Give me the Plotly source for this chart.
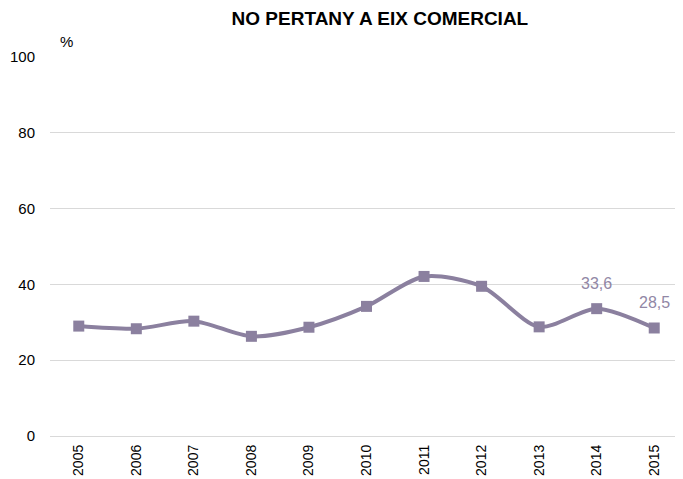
import plotly.graph_objects as go

# Data
years = ["2005", "2006", "2007", "2008", "2009", "2010",
         "2011", "2012", "2013", "2014", "2015"]
values = [29.0, 28.3, 30.3, 26.3, 28.7, 34.2, 42.1, 39.5, 28.8, 33.6, 28.5]
labelled = ["2014", "2015"]

color = "#8b809f"

fig = go.Figure()
fig.add_trace(go.Scatter(
    x=years, y=values, mode="lines+markers",
    line=dict(color=color, width=4, shape="spline", smoothing=0.8),
    marker=dict(symbol="square", size=11, color=color),
    cliponaxis=False, showlegend=False,
))

# value labels on the last two points (category index, since years look numeric)
notes = [dict(x=i, y=v, text=f"{v:.1f}".replace(".", ","), showarrow=False,
              xanchor="center", yanchor="middle", yshift=25,
              font=dict(color="#9187a5", size=16))
         for i, (y, v) in enumerate(zip(years, values)) if y in labelled]
notes.append(dict(text="%", xref="paper", yref="paper", x=0.0126, y=1.042,
                  xanchor="left", yanchor="middle", showarrow=False,
                  font=dict(size=15)))

# page body has an 8px margin, so the figure is sized to fit the window
fig.update_layout(
    width=675, height=471,
    margin=dict(l=42, r=0, t=49, b=43),
    paper_bgcolor="white", plot_bgcolor="white",
    font=dict(family="Liberation Sans, Arial", size=14, color="#000000"),
    title=dict(text="<b>NO PERTANY A EIX COMERCIAL</b>", xref="container",
               x=0.551, xanchor="center", yref="container",
               y=0.978, yanchor="middle", font=dict(size=19)),
    xaxis=dict(type="category", range=[-0.5, 10.5], tickangle=-90,
               showgrid=False, showline=False, ticks="", ticklabelstandoff=5,
               tickfont=dict(size=14)),
    yaxis=dict(range=[0, 100], dtick=20, showgrid=True, gridcolor="#d9d9d9",
               gridwidth=1, zeroline=True, zerolinecolor="#d9d9d9",
               zerolinewidth=1, showline=False, ticks="", ticklabelstandoff=14,
               tickfont=dict(size=15)),
    annotations=notes,
)

fig.write_html("out.html")
